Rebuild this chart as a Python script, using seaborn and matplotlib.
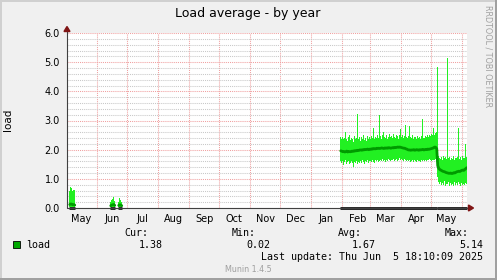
import matplotlib
matplotlib.use("Agg")
import matplotlib.pyplot as plt
import matplotlib.dates as mdates
from matplotlib.patches import Rectangle, Polygon
from matplotlib.lines import Line2D
import seaborn as sns
import pandas as pd

# ---------------- data (daily consolidated load) -------------
may_start = "2024-05-04"
may_max = [0.59, 0.73, 0.67, 0.59, 0.62, 0.62]
may_min = [0.02, 0.02, 0.02, 0.02, 0.02, 0.02]
may_avg = [0.12, 0.14, 0.13, 0.11, 0.12, 0.10]

jun_a_start = "2024-06-14"
jun_a_max = [0.20, 0.26, 0.30, 0.39, 0.25]
jun_a_min = [0.02, 0.02, 0.02, 0.02, 0.02]
jun_a_avg = [0.08, 0.10, 0.11, 0.12, 0.09]

jun_b_start = "2024-06-22"
jun_b_max = [0.22, 0.35, 0.28, 0.22]
jun_b_min = [0.02, 0.02, 0.02, 0.02]
jun_b_avg = [0.09, 0.11, 0.10, 0.08]

pre_start = "2025-01-30"
pre_max = [
    2.45, 2.38, 2.42, 2.35, 2.40, 2.62, 2.36, 2.30, 2.44, 2.50,
    2.33, 2.41, 2.38, 2.28, 2.47, 2.36, 2.40, 3.22, 2.35, 2.43,
    2.31, 2.45, 2.37, 2.50, 2.34, 2.40, 2.29, 2.46, 2.38, 2.42,
    2.36, 2.48, 2.40, 2.73, 2.35, 2.44, 2.39, 2.52, 2.41, 3.19,
    2.46, 2.38, 2.49, 2.62, 2.43, 2.40, 2.51, 2.37, 2.45, 2.55,
    2.42, 2.48, 2.39, 2.53, 2.44, 2.41, 2.50, 2.46, 2.38, 2.52,
    2.70, 2.45, 2.49, 2.40, 2.47, 2.85, 2.43, 2.39, 2.48, 2.80,
    2.44, 2.41, 2.50, 2.36, 2.45, 2.42, 2.38, 2.47, 2.40, 2.44,
    2.37, 2.46, 3.05, 2.41, 2.39, 2.48, 2.43, 2.50, 2.45, 2.52,
    2.47, 2.55, 2.49, 2.73, 2.51, 2.58, 2.60]
pre_min = [
    1.62, 1.55, 1.60, 1.48, 1.58, 1.63, 1.52, 1.57, 1.60, 1.50,
    1.56, 1.61, 1.53, 1.42, 1.58, 1.55, 1.62, 1.51, 1.59, 1.56,
    1.60, 1.54, 1.63, 1.57, 1.52, 1.61, 1.58, 1.64, 1.55, 1.60,
    1.62, 1.57, 1.65, 1.59, 1.56, 1.63, 1.60, 1.66, 1.58, 1.62,
    1.65, 1.60, 1.67, 1.61, 1.64, 1.58, 1.66, 1.62, 1.68, 1.63,
    1.60, 1.66, 1.64, 1.69, 1.61, 1.65, 1.67, 1.62, 1.66, 1.70,
    1.63, 1.68, 1.65, 1.61, 1.67, 1.64, 1.62, 1.66, 1.60, 1.63,
    1.58, 1.62, 1.65, 1.59, 1.63, 1.61, 1.57, 1.64, 1.60, 1.62,
    1.58, 1.63, 1.61, 1.65, 1.60, 1.64, 1.62, 1.66, 1.63, 1.67,
    1.64, 1.62, 1.66, 1.63, 1.65, 1.68, 1.64]
pre_avg = [
    1.96, 1.95, 1.93, 1.94, 1.92, 1.93, 1.95, 1.92, 1.94, 1.93,
    1.93, 1.95, 1.94, 1.96, 1.95, 1.97, 1.96, 1.98, 1.97, 1.99,
    1.99, 1.98, 2.00, 1.99, 2.01, 2.00, 2.01, 2.02, 2.00, 2.02,
    2.01, 2.03, 2.02, 2.04, 2.03, 2.03, 2.05, 2.04, 2.05, 2.04,
    2.05, 2.06, 2.05, 2.04, 2.06, 2.05, 2.06, 2.05, 2.07, 2.06,
    2.05, 2.06, 2.07, 2.06, 2.08, 2.07, 2.08, 2.09, 2.08, 2.09,
    2.08, 2.07, 2.06, 2.05, 2.05, 2.03, 2.02, 2.00, 1.99, 1.99,
    1.98, 1.99, 1.99, 2.00, 1.98, 1.99, 2.00, 1.99, 1.98, 2.00,
    1.99, 2.00, 2.01, 1.99, 2.00, 2.01, 2.00, 2.02, 2.01, 2.02,
    2.03, 2.04, 2.05, 2.07, 2.09, 2.08, 2.03]

post_start = "2025-05-07"
post_max = [4.84, 1.78, 1.72, 1.68, 1.75, 1.66, 1.80, 1.70, 1.74, 1.67,
            5.14, 1.71, 1.76, 1.65, 1.73, 1.69, 1.78, 1.64, 1.72, 1.70,
            1.75, 2.75, 1.68, 1.74, 1.66, 1.79, 1.70, 1.73, 2.18, 1.76]
post_min = [1.05, 0.88, 0.82, 0.90, 0.78, 0.85, 0.80, 0.92, 0.76, 0.84,
            0.81, 0.89, 0.74, 0.86, 0.79, 0.83, 0.77, 0.88, 0.80, 0.85,
            0.78, 0.90, 0.82, 0.76, 0.87, 0.80, 0.84, 0.79, 0.86, 0.83]
post_avg = [1.45, 1.36, 1.32, 1.30, 1.28, 1.26, 1.25, 1.24, 1.22, 1.21,
            1.20, 1.19, 1.19, 1.20, 1.18, 1.19, 1.21, 1.20, 1.22, 1.24,
            1.25, 1.26, 1.25, 1.27, 1.29, 1.30, 1.29, 1.32, 1.35, 1.38]

month_labels = ["May", "Jun", "Jul", "Aug", "Sep", "Oct", "Nov",
                "Dec", "Jan", "Feb", "Mar", "Apr", "May"]
y_ticks = [0.0, 1.0, 2.0, 3.0, 4.0, 5.0, 6.0]
legend_stats = {"Cur:": "1.38", "Min:": "0.02", "Avg:": "1.67", "Max:": "5.14"}
t_start = pd.Timestamp("2024-05-01 18:10:09")
t_end = pd.Timestamp("2025-06-05 18:10:09")

# ---------------- figure ----------------
W, H = 497, 280
sns.set_style("white")
plt.rcParams["font.family"] = ["DejaVu Sans"]
fig = plt.figure(figsize=(W / 100, H / 100), dpi=100, facecolor="#F0F0F0")

L, R, T, B = 67, 467, 33, 208
ax = fig.add_axes([L / W, 1 - B / H, (R - L) / W, (B - T) / H])
ax.set_facecolor("white")
for s in ax.spines.values():
    s.set_visible(False)

def P(x, y):
    return (x / W, 1 - y / H)

BAND = "#22F022"
AVG = "#009A00"

segments = [
    (may_start, may_max, may_min, may_avg),
    (jun_a_start, jun_a_max, jun_a_min, jun_a_avg),
    (jun_b_start, jun_b_max, jun_b_min, jun_b_avg),
    (pre_start, pre_max, pre_min, pre_avg),
    (post_start, post_max, post_min, post_avg),
]

zero_spans = []
for start, mx, mn, av in segments:
    edges = pd.date_range(start, periods=len(mx) + 1, freq="D")
    ax.fill_between(edges, list(mn) + [mn[-1]], list(mx) + [mx[-1]],
                    step="post", color=BAND, lw=0, zorder=3)
    zero_spans.append((edges[0], edges[-1]))

# average line drawn through seaborn, one continuous series per run
avg_runs = [
    (may_start, may_avg), (jun_a_start, jun_a_avg), (jun_b_start, jun_b_avg),
    (pre_start, pre_avg + post_avg),
]
for start, av in avg_runs:
    centers = pd.date_range(pd.Timestamp(start) + pd.Timedelta(hours=12),
                            periods=len(av), freq="D")
    df = pd.DataFrame({"t": centers, "load": av})
    sns.lineplot(data=df, x="t", y="load", ax=ax, color=AVG, lw=2.0,
                 zorder=4, estimator=None, sort=False)

for a, b in zero_spans:
    ax.plot([a, min(b, t_end)], [0, 0], color="black", lw=1.9,
            solid_capstyle="butt", zorder=6, clip_on=False)

ax.set_xlim(t_start, t_end)
ax.set_ylim(0, 6)
ax.set_xlabel("")
ax.set_ylabel("")

# grid
ax.yaxis.set_major_locator(matplotlib.ticker.FixedLocator(y_ticks))
ax.yaxis.set_minor_locator(matplotlib.ticker.MultipleLocator(0.2))
ax.set_yticklabels([f"{v:.1f}" for v in y_ticks])
ax.xaxis.set_major_locator(mdates.MonthLocator(bymonthday=1))
ax.xaxis.set_minor_locator(mdates.MonthLocator(bymonthday=16))
ax.xaxis.set_major_formatter(matplotlib.ticker.NullFormatter())
ax.xaxis.set_minor_formatter(mdates.DateFormatter("%b"))
ax.grid(True, which="minor", axis="y", color="#C8C8C8", lw=0.75,
        ls=(0, (1, 1)), zorder=1)
ax.grid(True, which="major", axis="y", color="#F0A0A0", lw=0.75,
        ls=(0, (1, 1)), zorder=1)
ax.grid(True, which="major", axis="x", color="#F0A0A0", lw=0.75,
        ls=(0, (1, 1)), zorder=1)
ax.tick_params(axis="y", which="major", length=2, width=0.7, color="#C08080",
               pad=3, labelsize=7, labelcolor="black")
ax.tick_params(axis="y", which="minor", length=2, width=0.7, color="#C0C0C0")
ax.tick_params(axis="x", which="major", length=0)
ax.tick_params(axis="x", which="minor", length=0, pad=4, labelsize=7,
               labelcolor="black")

# axes with arrows
fig.add_artist(Line2D([P(L, B)[0], P(L, 30)[0]], [P(L, B)[1], P(L, 30)[1]],
                      color="#404040", lw=0.8, transform=fig.transFigure, zorder=5))
fig.add_artist(Line2D([P(L, B)[0], P(470, B)[0]], [P(L, B)[1], P(470, B)[1]],
                      color="#404040", lw=0.8, transform=fig.transFigure, zorder=5))
fig.add_artist(Polygon([P(L, 26.5), P(L - 3, 31.5), P(L + 3, 31.5)], closed=True,
                       color="#801515", transform=fig.transFigure, zorder=7))
fig.add_artist(Polygon([P(473.5, B), P(468.5, B - 3), P(468.5, B + 3)], closed=True,
                       color="#801515", transform=fig.transFigure, zorder=7))

# texts
fig.text(*P(248, 13), "Load average - by year", ha="center", va="center",
         fontsize=9, color="black")
fig.text(*P(8, 120), "load", rotation=90, ha="center", va="center",
         fontsize=7.5, color="black")
fig.text(*P(488, 56.5), "RRDTOOL / TOBI OETIKER", rotation=270, ha="center",
         va="center", fontsize=5.8, color="#A0A0A0")

mono = dict(family="DejaVu Sans Mono", fontsize=7.2, color="black")
head_x = [148, 256, 362, 469]
val_x = [163, 270, 376, 483]
for (k, v), hx, vx in zip(legend_stats.items(), head_x, val_x):
    fig.text(*P(hx, 232.5), k, ha="right", va="center", **mono)
    fig.text(*P(vx, 244.5), v, ha="right", va="center", **mono)
fig.add_artist(Rectangle(P(13, 247.5), 7 / W, 7 / H, facecolor="#00A800",
                         edgecolor="black", lw=0.6, transform=fig.transFigure))
fig.text(*P(26, 244.5), "load", ha="left", va="center", **mono)
fig.text(*P(483, 257), "Last update: Thu Jun  5 18:10:09 2025", ha="right",
         va="center", **mono)
fig.text(*P(248, 269.5), "Munin 1.4.5", ha="center", va="center",
         fontsize=5.8, color="#A0A0A0")

# 3D border
fig.add_artist(Rectangle((0, 1 - 2 / H), 1, 2 / H, color="#D0D0D0",
                         transform=fig.transFigure, lw=0))
fig.add_artist(Rectangle((0, 0), 2 / W, 1, color="#D0D0D0",
                         transform=fig.transFigure, lw=0))
fig.add_artist(Rectangle((0, 0), 1, 2 / H, color="#A0A0A0",
                         transform=fig.transFigure, lw=0))
fig.add_artist(Rectangle((1 - 2 / W, 0), 2 / W, 1, color="#A0A0A0",
                         transform=fig.transFigure, lw=0))

fig.savefig("out.png", dpi=100, facecolor=fig.get_facecolor())
